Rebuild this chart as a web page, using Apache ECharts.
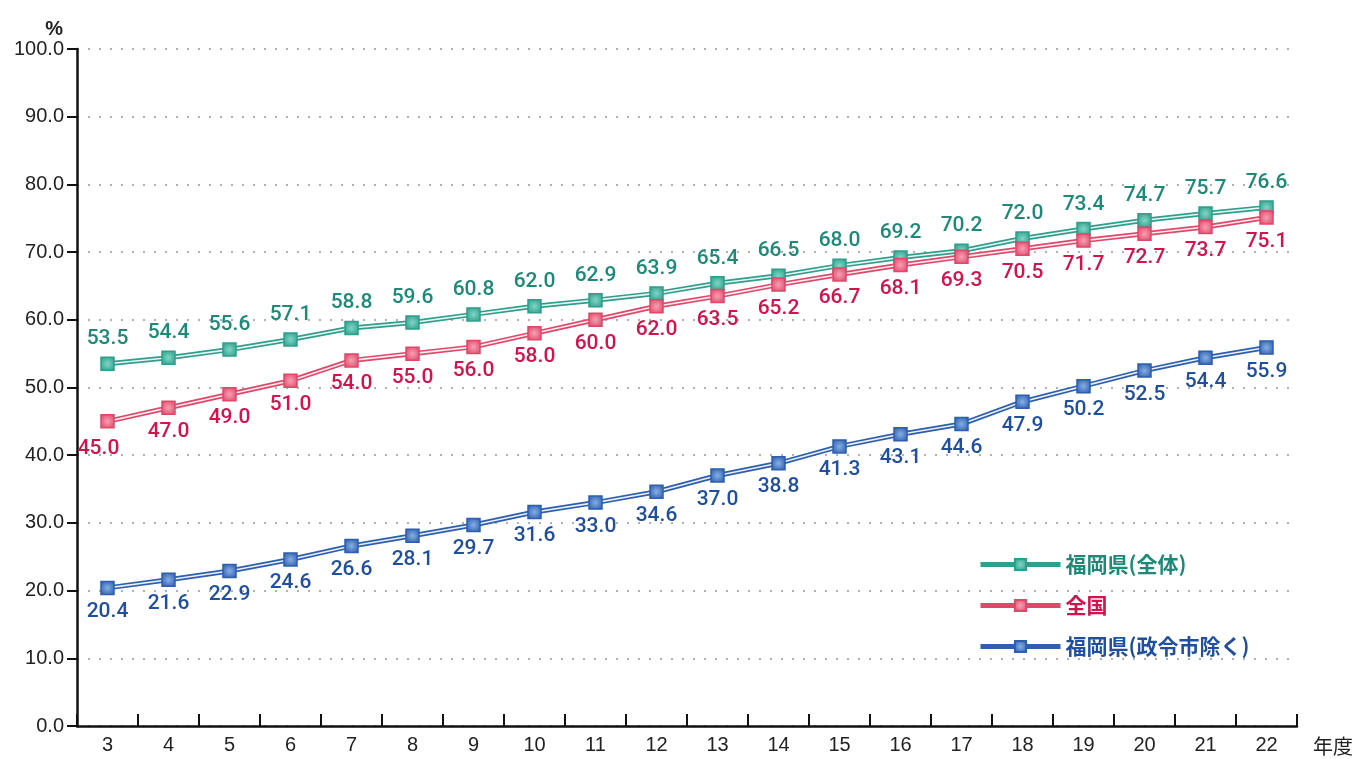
<!DOCTYPE html>
<html><head><meta charset="utf-8">
<script src="https://cdn.jsdelivr.net/npm/echarts@6/dist/echarts.min.js"></script>
<style>html,body{margin:0;padding:0;background:#fff}#c{width:1363px;height:759px}</style>
</head><body><div id="c"></div>
<script>
const categories = ['3','4','5','6','7','8','9','10','11','12','13','14','15','16','17','18','19','20','21','22'];
const fukuokaAll = [53.5,54.4,55.6,57.1,58.8,59.6,60.8,62.0,62.9,63.9,65.4,66.5,68.0,69.2,70.2,72.0,73.4,74.7,75.7,76.6];
const national = [45.0,47.0,49.0,51.0,54.0,55.0,56.0,58.0,60.0,62.0,63.5,65.2,66.7,68.1,69.3,70.5,71.7,72.7,73.7,75.1];
const fukuokaExcl = [20.4,21.6,22.9,24.6,26.6,28.1,29.7,31.6,33.0,34.6,37.0,38.8,41.3,43.1,44.6,47.9,50.2,52.5,54.4,55.9];
const seriesNames = ['福岡県(全体)','全国','福岡県(政令市除く)'];
const yTicks = [0,10,20,30,40,50,60,70,80,90,100];

const lineColors = ['#2f9e8c','#e0486a','#2d5fae'];
const textColors = ['#1d8a78','#d4124c','#1f4f9e'];
const fillLight = ['#7fd6c4','#f6a0b4','#86aee6'];
const datasets = [fukuokaAll, national, fukuokaExcl];
const labelPos = ['top','bottom','bottom'];

const series = [];
datasets.forEach((d,i)=>{
  series.push({type:'line', data:d, showSymbol:false, silent:true, z:2,
    lineStyle:{color:lineColors[i], width:5}, label:{show:false}});
  series.push({type:'line', data:d, showSymbol:false, silent:true, z:3,
    lineStyle:{color:'#ffffff', width:1.6, opacity:0.9}, label:{show:false}});
});
datasets.forEach((d,i)=>{
  series.push({type:'line', name:seriesNames[i], data:d.map((v,j)=>(i===1&&j===0)?{value:v,label:{offset:[-9,4]}}:v), z:4,
    symbol:'rect', symbolSize:13, showSymbol:true,
    lineStyle:{width:0, opacity:0},
    itemStyle:{color:{type:'radial',x:0.5,y:0.5,r:0.6,colorStops:[{offset:0,color:fillLight[i]},{offset:1,color:lineColors[i]}]},
      borderColor:lineColors[i], borderWidth:1.5},
    label:{show:true, position:labelPos[i], distance:i===0?7:6,
      formatter:p=>(typeof p.value==='number'?p.value:p.data.value).toFixed(1), color:textColors[i],
      fontFamily:'Roboto', fontWeight:500, fontSize:21}});
});

const chart = echarts.init(document.getElementById('c'));
chart.setOption({
  animation:false,
  grid:{left:77, right:66, top:49, bottom:33},
  legend:{
    orient:'vertical', left:973, top:549, itemGap:20,
    itemWidth:80, itemHeight:14,
    data: seriesNames.map((n,i)=>({name:n,
      lineStyle:{color:lineColors[i], width:5, opacity:1},
      textStyle:{color:textColors[i], fontSize:21, fontWeight:'bold', fontFamily:'Noto Sans CJK JP'}})),
    textStyle:{fontSize:21, fontWeight:'bold'}
  },
  xAxis:{type:'category', data:categories, boundaryGap:true,
    name:'年度', nameLocation:'end', nameGap:16,
    nameTextStyle:{color:'#222', fontSize:20, fontFamily:'Noto Sans CJK JP', verticalAlign:'top', padding:[10,0,0,0]},
    axisLine:{lineStyle:{color:'#111', width:2.5}},
    axisTick:{show:true, inside:true, length:12, lineStyle:{color:'#111', width:2}},
    axisLabel:{color:'#222', fontSize:20, fontFamily:'Liberation Sans', margin:9}},
  yAxis:{type:'value', min:0, max:100, interval:10,
    name:'%', nameLocation:'end', nameGap:10,
    nameTextStyle:{color:'#222', fontSize:20, fontWeight:'bold', align:'right', padding:[0,14,0,0], fontFamily:'Liberation Sans'},
    axisLine:{show:true, lineStyle:{color:'#111', width:2.5}},
    axisTick:{show:true, length:10, lineStyle:{color:'#111', width:2}},
    axisLabel:{color:'#222', fontSize:20, fontFamily:'Liberation Sans', margin:13,
      formatter:v=>yTicks.includes(v)?v.toFixed(1):''},
    splitLine:{show:true, lineStyle:{color:'#b0b0b0', type:[2,9], width:2}}},
  series:series
});
</script></body></html>
